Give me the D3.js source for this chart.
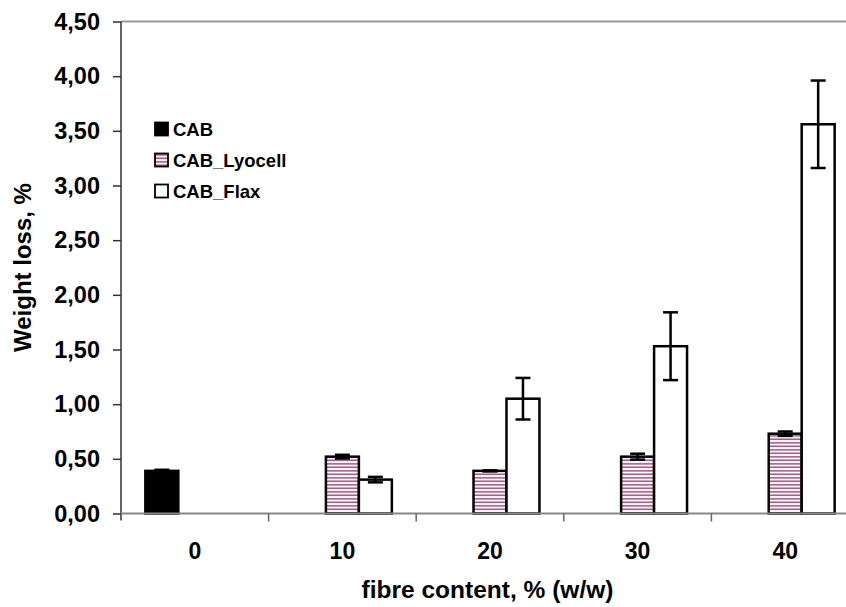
<!DOCTYPE html>
<html>
<head>
<meta charset="utf-8">
<script src="https://cdn.jsdelivr.net/npm/d3@7"></script>
<style>
  body { margin: 0; background: #fff; }
  text { font-family: "Liberation Sans", Arial, sans-serif; font-weight: bold; fill: #000; }
</style>
</head>
<body>
<svg id="chart"></svg>
<script>
const w = 846;
const h = 607;

// data
const categories = ["0", "10", "20", "30", "40"];
const seriesNames = ["CAB", "CAB_Lyocell", "CAB_Flax"];
const cabValues = [0.39, null, null, null, null];
const cabErrors = [0.01, null, null, null, null];
const lyocellValues = [null, 0.52, 0.39, 0.52, 0.73];
const lyocellErrors = [null, 0.017, 0.005, 0.027, 0.02];
const flaxValues = [null, 0.31, 1.05, 1.53, 3.56];
const flaxErrors = [null, 0.025, 0.19, 0.31, 0.40];
const yTicks = [0, 0.5, 1, 1.5, 2, 2.5, 3, 3.5, 4, 4.5];

const seriesValues = [cabValues, lyocellValues, flaxValues];
const seriesErrors = [cabErrors, lyocellErrors, flaxErrors];

const plotLeft = 121;
const plotRight = 859;   // plot runs off the right edge of the picture
const plotTop = 21.5;
const plotBottom = 513.5;

const svg = d3.select('#chart')
    .attr('width', w)
    .attr('height', h);

// hatch for the Lyocell bars
const defs = svg.append('defs');
const pat = defs.append('pattern')
    .attr('id', 'hatch')
    .attr('patternUnits', 'userSpaceOnUse')
    .attr('width', 8)
    .attr('height', 3.5);
pat.append('rect').attr('width', 8).attr('height', 3.5).attr('fill', '#fff');
pat.append('rect').attr('y', 1.2).attr('width', 8).attr('height', 1.2).attr('fill', '#8c1f5e');

const fills = ['#000', 'url(#hatch)', '#fff'];

const x0 = d3.scaleBand()
    .domain(categories)
    .range([plotLeft, plotRight]);

const groupW = x0.bandwidth() * 0.67;
const x1 = d3.scaleBand()
    .domain(seriesNames)
    .range([0, groupW]);

const yScale = d3.scaleLinear()
    .domain([0, 4.5])
    .range([plotBottom, plotTop]);

const locale = d3.formatLocale({decimal: ",", thousands: ".", grouping: [3], currency: ["", ""]});
const fmt = locale.format(".2f");

// frame top line (grey)
svg.append('line')
    .attr('x1', plotLeft).attr('x2', plotRight)
    .attr('y1', plotTop).attr('y2', plotTop)
    .attr('stroke', '#999').attr('stroke-width', 2);

// flatten into bar records
const bars = [];
seriesNames.forEach((s, i) => {
  categories.forEach((c, j) => {
    if (seriesValues[i][j] != null) {
      bars.push({series: s, si: i, cat: c, value: seriesValues[i][j], err: seriesErrors[i][j]});
    }
  });
});

const barX = (d) => x0(d.cat) + (x0.bandwidth() - groupW) / 2 + x1(d.series);

svg.selectAll('rect.bar')
    .data(bars)
    .enter()
    .append('rect')
    .attr('class', 'bar')
    .attr('x', barX)
    .attr('y', (d) => yScale(d.value))
    .attr('width', x1.bandwidth())
    .attr('height', (d) => plotBottom - yScale(d.value))
    .attr('fill', (d) => fills[d.si])
    .attr('stroke', '#000')
    .attr('stroke-width', 2.5);

// error bars
const capW = 15;
const errG = svg.selectAll('g.err')
    .data(bars)
    .enter()
    .append('g')
    .attr('class', 'err')
    .attr('stroke', '#000')
    .attr('stroke-width', 2.5);
errG.append('line')
    .attr('x1', (d) => barX(d) + x1.bandwidth() / 2)
    .attr('x2', (d) => barX(d) + x1.bandwidth() / 2)
    .attr('y1', (d) => yScale(d.value + d.err))
    .attr('y2', (d) => yScale(d.value - d.err));
errG.selectAll('line.cap')
    .data((d) => [d.value + d.err, d.value - d.err].map((v) => ({v: v, d: d})))
    .enter()
    .append('line')
    .attr('class', 'cap')
    .attr('x1', (e) => barX(e.d) + x1.bandwidth() / 2 - capW / 2)
    .attr('x2', (e) => barX(e.d) + x1.bandwidth() / 2 + capW / 2)
    .attr('y1', (e) => yScale(e.v))
    .attr('y2', (e) => yScale(e.v));

// y axis
const yAxis = d3.axisLeft(yScale)
    .tickValues(yTicks)
    .tickFormat(fmt)
    .tickSizeInner(8)
    .tickSizeOuter(0)
    .tickPadding(13);

const yG = svg.append('g')
    .attr('transform', 'translate(' + plotLeft + ',0)')
    .call(yAxis);
yG.select('.domain').attr('stroke', '#333').attr('stroke-width', 1.5)
    .attr('d', 'M0,' + plotTop + 'V' + (plotBottom + 7));
yG.selectAll('.tick line').attr('stroke', '#333').attr('stroke-width', 1.5);
yG.selectAll('.tick text').attr('font-size', 23.5).attr('font-family', '"Liberation Sans", Arial, sans-serif').attr('font-weight', 'bold').attr('fill', '#000');

// x axis: ticks sit between categories
const xG = svg.append('g')
    .attr('transform', 'translate(0,' + plotBottom + ')');
xG.append('line')
    .attr('x1', plotLeft).attr('x2', plotRight)
    .attr('stroke', '#888').attr('stroke-width', 2);
xG.selectAll('line.tk')
    .data(categories.slice(1))
    .enter()
    .append('line')
    .attr('class', 'tk')
    .attr('x1', (c) => x0(c)).attr('x2', (c) => x0(c))
    .attr('y1', 0).attr('y2', 8)
    .attr('stroke', '#666').attr('stroke-width', 1.5);
xG.selectAll('text')
    .data(categories)
    .enter()
    .append('text')
    .attr('x', (c) => x0(c) + x0.bandwidth() / 2)
    .attr('y', 45)
    .attr('text-anchor', 'middle')
    .attr('font-size', 23)
    .text((c) => c);

// axis titles
svg.append('text')
    .attr('x', (plotLeft + 846) / 2 + 4)
    .attr('y', 598)
    .attr('text-anchor', 'middle')
    .attr('font-size', 24.5)
    .text('fibre content, % (w/w)');

svg.append('text')
    .attr('transform', 'translate(31,' + ((plotTop + plotBottom) / 2) + ') rotate(-90)')
    .attr('text-anchor', 'middle')
    .attr('font-size', 24)
    .text('Weight loss, %');

// legend
const legend = svg.append('g').attr('transform', 'translate(155,129)');
const li = legend.selectAll('g')
    .data(seriesNames)
    .enter()
    .append('g')
    .attr('transform', (d, i) => 'translate(0,' + (i * 31) + ')');
li.append('rect')
    .attr('x', 0).attr('y', -6.5)
    .attr('width', 13).attr('height', 13)
    .attr('fill', (d, i) => fills[i])
    .attr('stroke', '#000').attr('stroke-width', 1.8);
li.append('text')
    .attr('x', 18)
    .attr('y', 6.5)
    .attr('font-size', 18.5)
    .text((d) => d);
</script>
</body>
</html>
